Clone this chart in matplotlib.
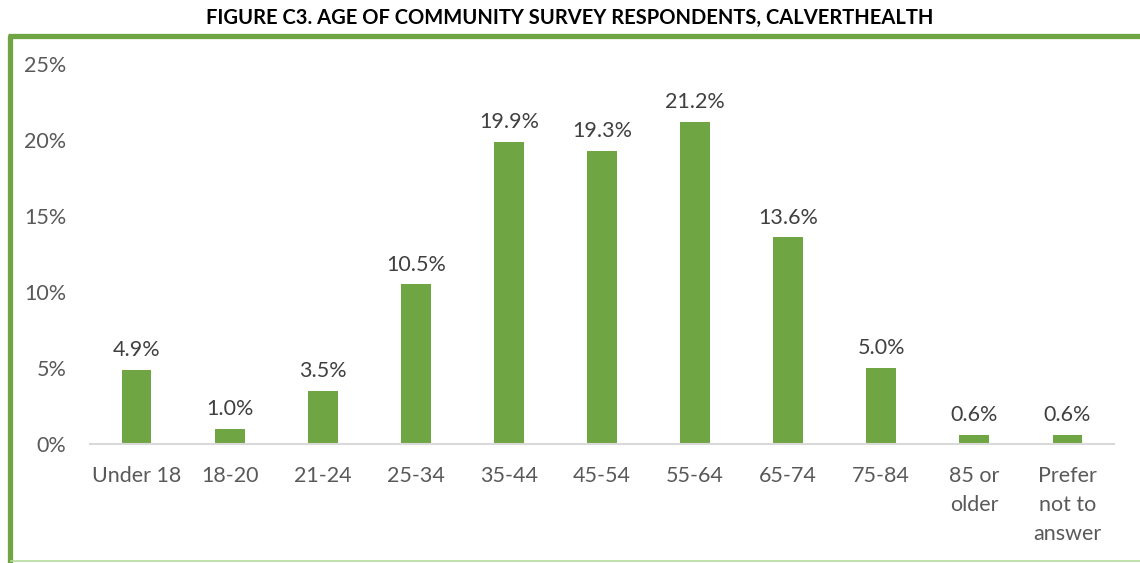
import matplotlib
matplotlib.use("Agg")
import matplotlib.pyplot as plt
from matplotlib.lines import Line2D
from matplotlib.ticker import FuncFormatter

categories = ["Under 18", "18-20", "21-24", "25-34", "35-44", "45-54",
              "55-64", "65-74", "75-84", "85 or\nolder", "Prefer\nnot to\nanswer"]
shares = [4.9, 1.0, 3.5, 10.5, 19.9, 19.3, 21.2, 13.6, 5.0, 0.6, 0.6]
title = "FIGURE C3. AGE OF COMMUNITY SURVEY RESPONDENTS, CALVERTHEALTH"

GREEN = "#70A544"
TEXT = "#595959"
W, H = 1140, 563

plt.rcParams["font.family"] = ["Lato", "DejaVu Sans"]

fig = plt.figure(figsize=(W / 100, H / 100), dpi=100)
ax = fig.add_axes([90 / W, (H - 444) / H, (1114 - 90) / W, (444 - 64) / H])

x = list(range(len(categories)))
ax.bar(x, shares, width=0.32, color=GREEN, zorder=3)
for xi, v in zip(x, shares):
    ax.annotate(f"{v:.1f}%", (xi, v), xytext=(0, 7), textcoords="offset points",
                ha="center", va="bottom", fontsize=15.5, color="#404040")

ax.set_xlim(-0.5, len(categories) - 0.5)
ax.set_ylim(0, 25)
ax.set_yticks([0, 5, 10, 15, 20, 25])
ax.yaxis.set_major_formatter(FuncFormatter(lambda v, p: f"{v:.0f}%"))
ax.set_xticks(x)
ax.set_xticklabels(categories, linespacing=1.55)
ax.tick_params(axis="both", length=0, labelsize=15.5, labelcolor=TEXT)
ax.tick_params(axis="x", pad=16)
ax.tick_params(axis="y", pad=17)
for s in ["top", "right", "left"]:
    ax.spines[s].set_visible(False)
ax.spines["bottom"].set_color("#D9D9D9")
ax.spines["bottom"].set_linewidth(1.5)
ax.spines["bottom"].set_zorder(4)

# Frame around the chart area
fig.add_artist(Line2D([9.5 / W, 9.5 / W], [0, (H - 35) / H], color=GREEN, lw=3.8,
                      transform=fig.transFigure, solid_capstyle="butt"))
fig.add_artist(Line2D([7.5 / W, 1], [(H - 35.5) / H, (H - 35.5) / H], color=GREEN, lw=3.8,
                      transform=fig.transFigure, solid_capstyle="butt"))
fig.add_artist(Line2D([11 / W, 1], [2 / H, 2 / H], color="#B7DB9C", lw=1.2,
                      transform=fig.transFigure))

fig.text(0.5, (H - 18) / H, title, ha="center", va="center", fontsize=14.5,
         fontweight="bold", color="black")

fig.savefig("out.png", dpi=100)
